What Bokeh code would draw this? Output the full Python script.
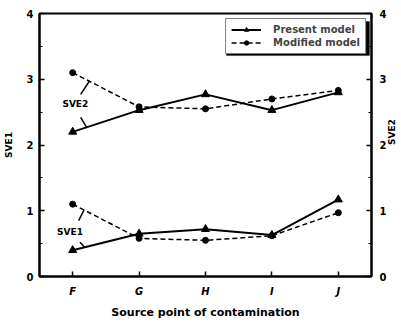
import math
from bokeh.plotting import figure
from bokeh.models import (Range1d, LinearAxis, FixedTicker, Legend, LegendItem,
                          BoxAnnotation)
from bokeh.core.properties import value
from bokeh.embed import file_html
from bokeh.resources import INLINE

# ---- data ----
categories = ["F", "G", "H", "I", "J"]
sve2_present = [2.20, 2.53, 2.77, 2.53, 2.80]
sve2_modified = [3.10, 2.58, 2.55, 2.70, 2.83]
sve1_present = [0.40, 0.65, 0.72, 0.63, 1.17]
sve1_modified = [1.10, 0.58, 0.55, 0.62, 0.97]
y_ticks = [0, 1, 2, 3, 4]

xs = [i + 1 for i in range(len(categories))]
FONT = "DejaVu Sans"

p = figure(frame_width=332, frame_height=263, output_backend="svg", toolbar_location=None,
           x_range=Range1d(0.5, 5.5), y_range=Range1d(0, 4),
           min_border_left=30, min_border_right=4, min_border_top=13, min_border_bottom=4)
p.extra_y_ranges = {"y2": Range1d(0, 4)}
p.grid.visible = False
p.outline_line_color = "black"
p.outline_line_width = 2
p.background_fill_color = "white"
p.border_fill_color = "white"

def style_axis(ax):
    ax.axis_line_width = 2
    ax.axis_line_color = "black"
    ax.major_tick_in = 5
    ax.major_tick_out = 0
    ax.minor_tick_in = 3
    ax.minor_tick_out = 0
    ax.major_tick_line_width = 1.5
    ax.minor_tick_line_width = 1
    ax.major_label_text_font = FONT
    ax.major_label_text_font_style = "bold"
    ax.major_label_text_font_size = "10px"
    ax.major_label_text_color = "black"
    ax.axis_label_text_font = FONT
    ax.axis_label_text_font_style = "bold"
    ax.axis_label_text_font_size = "9px"
    ax.axis_label_text_color = "black"

xa = p.xaxis[0]
style_axis(xa)
xa.ticker = FixedTicker(ticks=xs)
xa.major_label_overrides = {x: c for x, c in zip(xs, categories)}
xa.major_label_text_font_style = "bold italic"
xa.minor_tick_in = 0
xa.axis_label = "Source point of contamination"
xa.axis_label_text_font_size = "11px"
xa.major_label_standoff = 9
xa.axis_label_standoff = 6

ya = p.yaxis[0]
style_axis(ya)
ya.ticker = FixedTicker(ticks=y_ticks, minor_ticks=[t + 0.5 for t in y_ticks[:-1]])
ya.axis_label = "SVE1"
ya.major_label_standoff = 6
ya.axis_label_standoff = 10

ya2 = LinearAxis(y_range_name="y2")
style_axis(ya2)
ya2.ticker = FixedTicker(ticks=y_ticks, minor_ticks=[t + 0.5 for t in y_ticks[:-1]])
ya2.axis_label = "SVE2"
ya2.axis_label_orientation = math.pi / 2
ya2.major_label_standoff = 8
ya2.axis_label_standoff = 3
p.add_layout(ya2, "right")

# ---- series ----
r_lines = {}
for name, pres, mod in [("sve2", sve2_present, sve2_modified),
                        ("sve1", sve1_present, sve1_modified)]:
    lp = p.line(xs, pres, line_color="black", line_width=2)
    sp = p.scatter(xs, pres, marker="triangle", size=8, fill_color="black", line_color="black")
    lm = p.line(xs, mod, line_color="black", line_width=1.5, line_dash="5 3")
    sm = p.scatter(xs, mod, marker="circle", size=6, fill_color="black", line_color="black")
    r_lines[name] = (lp, sp, lm, sm)

# ---- annotations (labels and leaders) ----
def interp(vals, x):
    i = int(x) - 1
    return vals[i] + (x - int(x)) * (vals[i + 1] - vals[i])

p.text(x=[1.04], y=[2.62], text=["SVE2"], text_font=value(FONT), text_font_style="bold",
       text_font_size="9px", text_align="center", text_baseline="middle", text_color="black")
p.text(x=[0.96], y=[0.67], text=["SVE1"], text_font=value(FONT), text_font_style="bold",
       text_font_size="9px", text_align="center", text_baseline="middle", text_color="black")

x_lead = [1.12, 1.12, 1.09, 1.11]
y_lead = [2.77, 2.42, 0.85, 0.52]
x_end = [1.25, 1.21, 1.17, 1.18]
y_end = [interp(sve2_modified, 1.25), interp(sve2_present, 1.21),
         interp(sve1_modified, 1.17), interp(sve1_present, 1.18)]
p.segment(x0=x_lead, y0=y_lead, x1=x_end, y1=y_end, line_color="black", line_width=1.5)

# ---- legend with shadow ----
p.add_layout(BoxAnnotation(left=3.316, right=5.47, top=3.878, bottom=3.36,
                           fill_color="black", fill_alpha=1, line_color="black"))
legend = Legend(items=[
    LegendItem(label="Present model", renderers=[r_lines["sve2"][0], r_lines["sve2"][1]]),
    LegendItem(label="Modified model", renderers=[r_lines["sve2"][2], r_lines["sve2"][3]]),
], location="top_right", margin=5, padding=5, spacing=2,
    label_text_font=FONT, label_text_font_style="bold", label_text_font_size="10px",
    label_height=11, glyph_height=11, glyph_width=30, label_standoff=12,
    border_line_color="black", border_line_width=1.5, background_fill_alpha=1,
    background_fill_color="white")
p.add_layout(legend)

open("out.html", "w").write(file_html(p, INLINE))
